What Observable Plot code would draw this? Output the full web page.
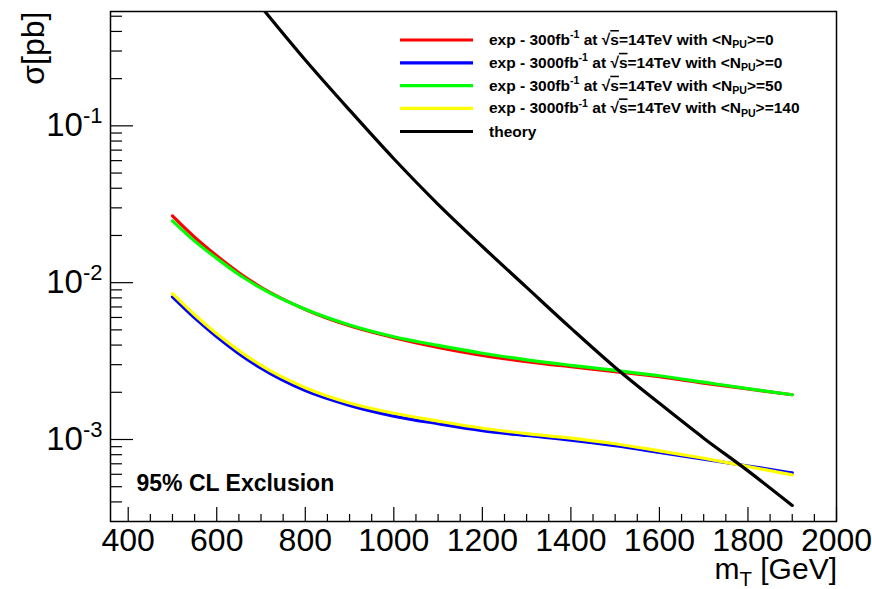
<!DOCTYPE html>
<html><head><meta charset="utf-8">
<script src="https://cdn.jsdelivr.net/npm/d3@7"></script>
<script src="https://cdn.jsdelivr.net/npm/@observablehq/plot@0.6"></script>
<style>
html,body{margin:0;padding:0;background:#fff;}
#chart{width:872px;height:589px;}
text{white-space:pre;}
</style></head><body><div id="chart"></div>
<script>
// ---- data ----
const mass = [500,550,600,650,700,800,900,1000,1100,1200,1300,1400,1500,1600,1700,1800,1900];
const exp300_pu0   = [0.02667,0.01950,0.01483,0.01156,0.00935,0.00675,0.00531,0.00446,0.003864,0.003443,0.003141,0.002911,0.002710,0.002512,0.00229,0.00210,0.00193];
const exp3000_pu0  = [0.00811,0.00596,0.00452,0.00353,0.00285,0.00205,0.00165,0.00141,0.00126,0.00114,0.00106,0.000991,0.000912,0.000828,0.000750,0.000678,0.000612];
const exp300_pu50  = [0.02477,0.01841,0.01429,0.01127,0.00923,0.00676,0.00537,0.00452,0.00398,0.00355,0.00322,0.00297,0.00276,0.00255,0.00232,0.00211,0.00193];
const exp3000_pu140= [0.00851,0.00624,0.00472,0.00369,0.00297,0.00214,0.00171,0.00147,0.00131,0.00118,0.00109,0.00102,0.000940,0.000847,0.000759,0.000673,0.000594];
const theoryMass = [700,800,900,1000,1100,1200,1300,1400,1500,1600,1700,1800,1900];
const theory     = [0.575,0.263,0.126,0.0617,0.0316,0.0170,0.00933,0.00513,0.00288,0.00170,0.00102,0.000631,0.000380];

const lumis   = ["300","3000","300","3000"];
const pileups = ["0","0","50","140"];
const colors  = ["#ff0000","#0000ff","#00ff00","#ffff00","#000000"];
const xMajor = [400,600,800,1000,1200,1400,1600,1800,2000];
const xMinor = d3.range(450,2000,50).filter(v => v % 200 !== 0);
const yMajor = [1e-3,1e-2,1e-1];
const yMinor = [4e-4,5e-4,6e-4,7e-4,8e-4,9e-4,2e-3,3e-3,4e-3,5e-3,6e-3,7e-3,8e-3,9e-3,2e-2,3e-2,4e-2,5e-2,6e-2,7e-2,8e-2,9e-2,0.2,0.3,0.4,0.5];
const xTitle = "[GeV]";
const yTitle = "σ[pb]";
const note = "95% CL Exclusion";

// ---- layout ----
const W = 872, H = 589;
const mL = 110, mR = 36, mT = 11, mB = 68;
const fW = W - mL - mR, fH = H - mT - mB;

const seriesList = [exp300_pu0, exp3000_pu0, exp300_pu50, exp3000_pu140];
const lineMarks = seriesList.map((s, i) =>
  Plot.line(mass.map((m, j) => [m, s[j]]), {stroke: colors[i], strokeWidth: 3.2, curve: "monotone-x", clip: true}));

const plot = Plot.plot({
  width: W, height: H,
  marginLeft: mL, marginRight: mR, marginTop: mT, marginBottom: mB,
  style: {fontFamily: "'Liberation Sans', Arial, Helvetica, sans-serif", background: "white", color: "black"},
  x: {domain: [360, 2000]},
  y: {type: "log", domain: [3e-4, 0.536]},
  marks: [
    ...lineMarks,
    Plot.line(theoryMass.map((m, j) => [m, theory[j]]), {stroke: colors[4], strokeWidth: 3.2, curve: "monotone-x", clip: true}),
    Plot.tickX(xMajor, {x: d => d, insetTop: fH - 14, stroke: "black", strokeWidth: 1.2}),
    Plot.tickX(xMinor, {x: d => d, insetTop: fH - 7, stroke: "black", strokeWidth: 1.2}),
    Plot.tickY(yMajor, {y: d => d, insetRight: fW - 23, stroke: "black", strokeWidth: 1.2}),
    Plot.tickY(yMinor, {y: d => d, insetRight: fW - 12, stroke: "black", strokeWidth: 1.2}),
    Plot.frame({stroke: "black", strokeWidth: 1.5}),
    Plot.axisX(xMajor, {tickSize: 0, tickPadding: 7, fontSize: 32, label: null, tickFormat: d => String(d)}),
    Plot.axisY(yMajor, {tickSize: 0, tickPadding: 8, fontSize: 33, label: null, tickFormat: d => "10^" + Math.round(Math.log10(d))}),
    Plot.text([yTitle], {frameAnchor: "top-left", rotate: -90, textAnchor: "end", lineAnchor: "middle", dx: -77, dy: 0, fontSize: 32}),
    Plot.text([note], {frameAnchor: "bottom-left", textAnchor: "start", lineAnchor: "middle", dx: 26, dy: -38, fontSize: 23, fontWeight: "bold"})
  ]
});
document.getElementById("chart").appendChild(plot);
const svg = d3.select(plot);

// y tick labels: 10 with superscript exponent
svg.selectAll('g[aria-label="y-axis tick label"] text').each(function() {
  const s = this.textContent;
  const [b, e] = s.split("^");
  const t = d3.select(this);
  t.text(null);
  t.append("tspan").text(b);
  t.append("tspan").attr("dy", -13).attr("font-size", 22).text(e);
});

// rich text helper
function rich(g, parts, x, y, size, weight, anchor) {
  const t = g.append("text").attr("x", x).attr("y", y).attr("font-size", size)
    .attr("font-weight", weight).attr("text-anchor", anchor || "start").attr("fill", "black");
  let shift = 0;
  for (const p of parts) {
    const target = p.sup ? -size * 0.42 : p.sub ? size * 0.22 : 0;
    const ts = t.append("tspan").attr("dy", target - shift).text(p.t);
    if (p.sup || p.sub) ts.attr("font-size", size * 0.68);
    if (p.over) ts.style("text-decoration", "overline");
    shift = target;
  }
  return t;
}

// x title m_T [GeV]
const tg = svg.append("g");
rich(tg, [{t: "m"}, {t: "T", sub: true}, {t: " " + xTitle}], 837, 579, 30, "normal", "end");

// legend
const lg = svg.append("g").attr("font-family", "'Liberation Sans', Arial, Helvetica, sans-serif");
const rowY = [40, 62.8, 85.7, 108.4, 131.5];
for (let i = 0; i < 5; i++) {
  lg.append("line").attr("x1", 400).attr("x2", 473).attr("y1", rowY[i]).attr("y2", rowY[i])
    .attr("stroke", colors[i]).attr("stroke-width", 3.2);
  const parts = i < 4
    ? [{t: "exp - " + lumis[i] + "fb"}, {t: "-1", sup: true}, {t: " at √"}, {t: "s", over: true},
       {t: "=14TeV with <N"}, {t: "PU", sub: true}, {t: ">=" + pileups[i]}]
    : [{t: "theory"}];
  rich(lg, parts, 489, rowY[i] + 5, 15.5, "bold");
}
</script></body></html>
